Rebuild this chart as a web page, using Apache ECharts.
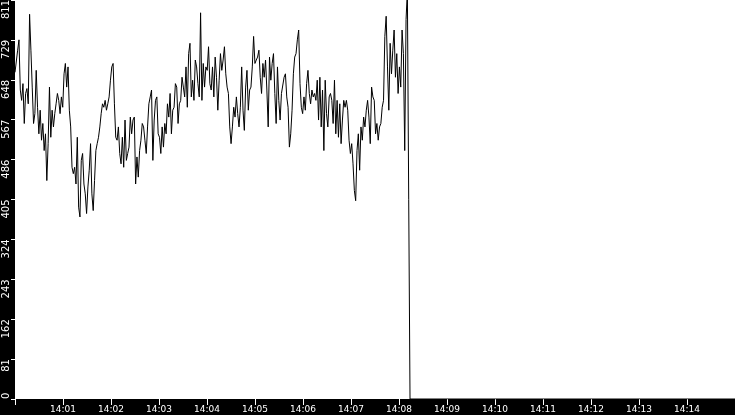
<!DOCTYPE html>
<html>
<head>
<meta charset="utf-8">
<script src="https://cdn.jsdelivr.net/npm/echarts@6/dist/echarts.min.js"></script>
<style>
  html, body { margin: 0; padding: 0; background: #000; overflow: hidden; }
  #chart { width: 735px; height: 415px; }
</style>
</head>
<body>
<div id="chart"></div>
<script>
// sampling: one reading every ~1.66 s starting at 14:00:00
const startTime = new Date(2024, 0, 1, 14, 0, 0).getTime();
const endTime = new Date(2024, 0, 1, 14, 15, 0).getTime();
const stepMs = 1657;

// readings, 14:00 - 14:02
const part1 = [664, 668, 709, 730, 628, 607, 641, 560, 621, 631,
    600, 782, 709, 634, 560, 580, 668, 593, 539, 587,
    526, 560, 505, 539, 444, 519, 634, 532, 587, 553,
    580, 600, 621, 607, 580, 614, 593, 661, 682, 634,
    675, 587, 553, 471, 458, 471, 437, 532, 390, 370,
    485, 499, 437, 417, 377, 431, 465, 519, 417, 383,
    444, 505, 519, 532, 553, 580, 600, 593, 607, 587,
    600, 614, 648, 675, 682, 600, 532];
// 14:02 - 14:04
const part2 = [526, 553, 499, 478, 532, 471, 567, 485, 499, 512,
    573, 539, 567, 573, 437, 492, 451, 505, 526, 560,
    553, 526, 499, 553, 600, 614, 628, 485, 567, 607,
    614, 539, 532, 499, 553, 512, 560, 539, 600, 573,
    621, 539, 587, 593, 641, 634, 560, 600, 607, 654,
    634, 614, 675, 593, 702, 723, 614, 648, 607, 689,
    675, 641, 614, 785, 607, 682, 634, 675, 668];
// 14:04 - 14:06
const part3 = [716, 641, 628, 675, 614, 695, 654, 587, 648, 702,
    668, 689, 716, 661, 634, 621, 553, 519, 553, 593,
    573, 614, 580, 553, 593, 675, 587, 546, 634, 668,
    587, 628, 634, 675, 737, 682, 689, 695, 709, 654,
    621, 682, 654, 689, 628, 553, 695, 648, 682, 702,
    621, 560, 675, 607, 567, 621, 621, 654, 661, 614,
    593, 512, 539, 587, 661, 695, 702, 730, 750, 641,
    593, 580, 614, 587];
// 14:06 - 14:08, then the drop
const part4 = [641, 668, 621, 600, 628, 614, 621, 607, 648, 567,
    654, 553, 628, 505, 648, 580, 553, 614, 621, 607,
    560, 648, 539, 607, 532, 600, 519, 567, 607, 593,
    607, 587, 526, 499, 519, 478, 424, 403, 505, 539,
    465, 553, 526, 573, 553, 587, 607, 573, 519, 634,
    614, 607, 539, 560, 526, 553, 560, 593, 607, 737,
    778, 675, 587, 723, 661, 709, 750, 654, 702, 621,
    675, 634, 750, 702, 505, 771, 830, 405, 0];

const yMax = 811;
const yStep = 81.1;

const values = part1.concat(part2, part3, part4);
const data = values.map((v, i) => [startTime + i * stepMs, v]);
data.push([endTime, 0]);

const pad = n => (n < 10 ? '0' : '') + n;

const myChart = echarts.init(document.getElementById('chart'));
const option = {
    backgroundColor: '#000',
    animation: false,
    grid: {
        left: 15, right: 0, top: 0, bottom: 16,
        outerBoundsMode: 'none',
        containLabel: false,
        show: true, backgroundColor: '#fff', borderWidth: 0
    },
    xAxis: {
        type: 'time',
        min: startTime,
        max: endTime,
        interval: 60000,
        minInterval: 60000,
        maxInterval: 60000,
        splitNumber: 15,
        axisLine: { show: false },
        axisTick: { show: true, length: 6, lineStyle: { color: '#fff', width: 1 } },
        splitLine: { show: false },
        axisLabel: {
            color: '#fff',
            fontFamily: 'DejaVu Sans',
            fontSize: 9,
            margin: 6,
            hideOverlap: false,
            formatter: v => {
                if (v <= startTime || v >= endTime) return '';
                const d = new Date(v);
                return pad(d.getHours()) + ':' + pad(d.getMinutes());
            }
        }
    },
    yAxis: {
        type: 'value',
        min: 0,
        max: yMax,
        interval: yStep,
        axisLine: { show: false },
        axisTick: { show: true, length: 4, lineStyle: { color: '#fff', width: 1 } },
        splitLine: { show: false },
        axisLabel: {
            color: '#fff',
            fontFamily: 'DejaVu Sans',
            fontSize: 10,
            rotate: 90,
            margin: 4,
            align: 'right',
            verticalAlign: 'bottom',
            alignMinLabel: 'left',
            alignMaxLabel: 'right',
            formatter: v => String(Math.floor(v + 1e-6))
        }
    },
    series: [{
        type: 'line',
        data: data,
        showSymbol: false,
        symbol: 'none',
        sampling: null,
        lineStyle: { color: '#000', width: 1 },
        clip: true
    }]
};
myChart.setOption(option);
</script>
</body>
</html>
